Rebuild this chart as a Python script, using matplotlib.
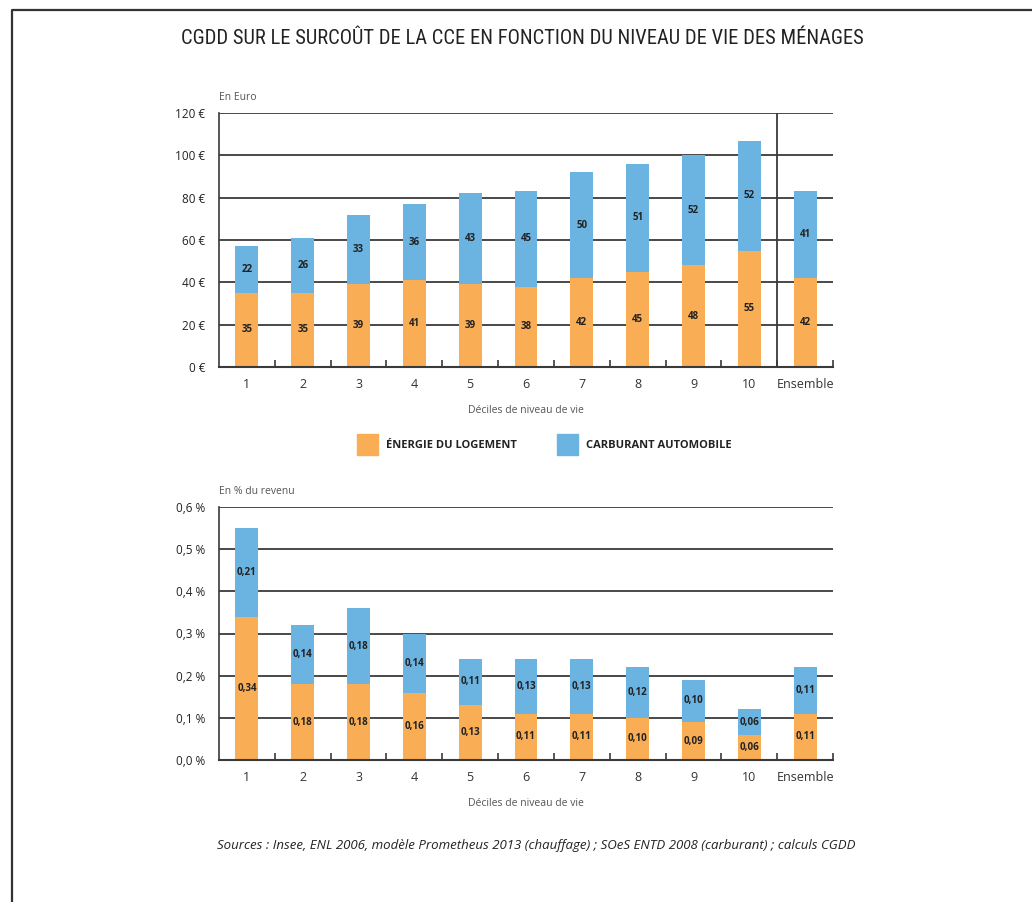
import numpy as np
import matplotlib
matplotlib.use("Agg")
import matplotlib.pyplot as plt
from matplotlib.lines import Line2D
from matplotlib.patches import Rectangle

plt.rcParams['font.family'] = ['Open Sans', 'DejaVu Sans']

# Données
categories = ['1', '2', '3', '4', '5', '6', '7', '8', '9', '10', 'Ensemble']
euro_logement = [35, 35, 39, 41, 39, 38, 42, 45, 48, 55, 42]
euro_carburant = [22, 26, 33, 36, 43, 45, 50, 51, 52, 52, 41]
pct_logement = [0.34, 0.18, 0.18, 0.16, 0.13, 0.11, 0.11, 0.10, 0.09, 0.06, 0.11]
pct_carburant = [0.21, 0.14, 0.18, 0.14, 0.11, 0.13, 0.13, 0.12, 0.10, 0.06, 0.11]

ORANGE = '#F9AE56'
BLEU = '#6BB3E0'
GRILLE = '#3a3a3a'
TEXTE = '#222222'

fig = plt.figure(figsize=(10.32, 9.02), dpi=100)

# Cadre (bord gauche et haut)
fig.add_artist(Line2D([12/1032, 12/1032, 1.0], [0.0, 1 - 10/902, 1 - 10/902],
                      transform=fig.transFigure, color='#333333', lw=1.6))

fig.text(522/1032, 1 - 38/902,
         "CGDD SUR LE SURCOÛT DE LA CCE EN FONCTION DU NIVEAU DE VIE DES MÉNAGES",
         ha='center', va='center', fontsize=14.8, color='#222222',
         family=['Roboto Condensed', 'Roboto', 'DejaVu Sans'], fontstretch='condensed')

x = np.arange(1, len(categories) + 1)
largeur = 0.41


def dessine(ax, bas, haut, ymax, pas, fmt_tick, fmt_val):
    ax.set_xlim(0.5, len(categories) + 0.5)
    ax.set_ylim(0, ymax)
    for yv in np.arange(pas, ymax + pas / 2, pas):
        ax.axhline(yv, color=GRILLE, lw=1.3, zorder=1)
    ax.bar(x, bas, largeur, color=ORANGE, zorder=2)
    ax.bar(x, haut, largeur, bottom=bas, color=BLEU, zorder=2)
    for xi, b, h in zip(x, bas, haut):
        ax.text(xi, b / 2, fmt_val(b), ha='center', va='center',
                fontsize=7, fontweight='bold', color=TEXTE, zorder=3)
        ax.text(xi, b + h / 2, fmt_val(h), ha='center', va='center',
                fontsize=7, fontweight='bold', color=TEXTE, zorder=3)
    ticks = np.arange(0, ymax + pas / 2, pas)
    ax.set_yticks(ticks)
    ax.set_yticklabels([fmt_tick(t) for t in ticks], fontsize=8.5, color=TEXTE)
    ax.tick_params(axis='y', length=0, pad=10)
    ax.set_xticks(x)
    ax.set_xticklabels(categories, fontsize=9, color='#333333')
    ax.tick_params(axis='x', which='major', length=0, pad=8)
    ax.set_xticks(np.arange(1.5, len(categories) + 1, 1.0), minor=True)
    ax.tick_params(axis='x', which='minor', direction='in', length=5,
                   width=1.2, color=GRILLE)
    for s in ['top', 'right']:
        ax.spines[s].set_visible(False)
    ax.spines['left'].set_color(GRILLE)
    ax.spines['bottom'].set_color(GRILLE)
    ax.spines['left'].set_linewidth(1.2)
    ax.spines['bottom'].set_linewidth(1.5)
    ax.set_xlabel("Déciles de niveau de vie", fontsize=7.5, color='#555555', labelpad=10)


L, W = 219/1032, 614/1032

ax1 = fig.add_axes([L, 1 - 367/902, W, 254/902])
dessine(ax1, euro_logement, euro_carburant, 120, 20,
        lambda t: f"{int(t)} €", lambda v: f"{v}")
ax1.axvline(10.5, color=GRILLE, lw=1.3, zorder=1)
ax1.text(0, 1.04, "En Euro", transform=ax1.transAxes, fontsize=7.5,
         color='#555555', ha='left', va='bottom')

ax2 = fig.add_axes([L, 1 - 760/902, W, 253/902])
dessine(ax2, pct_logement, pct_carburant, 0.6, 0.1,
        lambda t: f"{t:.1f} %".replace('.', ','),
        lambda v: f"{v:.2f}".replace('.', ','))
ax2.text(0, 1.04, "En % du revenu", transform=ax2.transAxes, fontsize=7.5,
         color='#555555', ha='left', va='bottom')

# Légende
for x0, couleur, label in [(357, ORANGE, "ÉNERGIE DU LOGEMENT"),
                           (557, BLEU, "CARBURANT AUTOMOBILE")]:
    fig.add_artist(Rectangle((x0/1032, 1 - 455/902), 21/1032, 21/902,
                             transform=fig.transFigure, color=couleur))
    fig.text((x0 + 29)/1032, 1 - 445/902, label, fontsize=8, fontweight='bold',
             color=TEXTE, ha='left', va='center')

fig.text(536/1032, 1 - 845/902,
         "Sources : Insee, ENL 2006, modèle Prometheus 2013 (chauffage) ; "
         "SOeS ENTD 2008 (carburant) ; calculs CGDD",
         ha='center', va='center', fontsize=9.5, style='italic', color=TEXTE)

fig.savefig("out.png", dpi=100)
